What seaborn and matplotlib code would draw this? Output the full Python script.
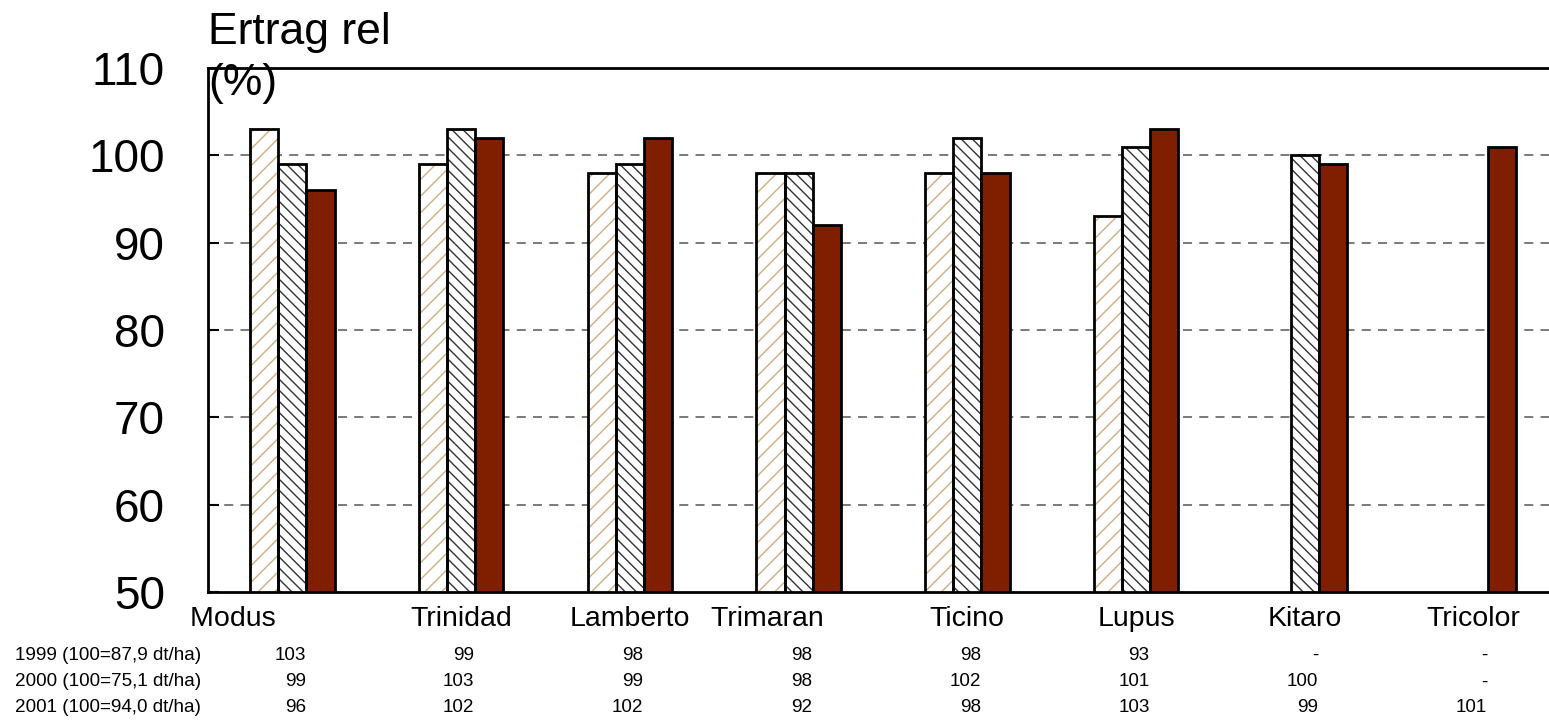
import numpy as np
import pandas as pd
import matplotlib
matplotlib.use('Agg')
import matplotlib.pyplot as plt
import seaborn as sns
from matplotlib.patches import Rectangle
from matplotlib.transforms import blended_transform_factory

# Sorten und relative Ertraege (100 = Mittel der Standards)
sorten = ['Modus', 'Trinidad', 'Lamberto', 'Trimaran', 'Ticino', 'Lupus', 'Kitaro', 'Tricolor']
tick_labels = ['Modus' + ' ' * 15, 'Trinidad', 'Lamberto', 'Trimaran' + ' ' * 8,
               'Ticino', 'Lupus', 'Kitaro', 'Tricolor']
jahre = ['1999', '2000', '2001']
jahr_labels = ['1999 (100=87,9 dt/ha)', '2000 (100=75,1 dt/ha)', '2001 (100=94,0 dt/ha)']
ertrag_1999 = [103, 99, 98, 98, 98, 93, np.nan, np.nan]
ertrag_2000 = [99, 103, 99, 98, 102, 101, 100, np.nan]
ertrag_2001 = [96, 102, 102, 92, 98, 103, 99, 101]

df = pd.DataFrame({
    'sorte': sorten * 3,
    'jahr': [j for j in jahre for _ in sorten],
    'ertrag': ertrag_1999 + ertrag_2000 + ertrag_2001,
})

sns.set_theme(style='white')
plt.rcParams['font.family'] = ['Liberation Sans', 'DejaVu Sans']
plt.rcParams['text.color'] = 'black'
plt.rcParams['xtick.color'] = 'black'
plt.rcParams['ytick.color'] = 'black'
plt.rcParams['hatch.linewidth'] = 1.0

fig = plt.figure(figsize=(15.49, 7.2), dpi=100)
ax = fig.add_axes([208 / 1549, 1 - 592 / 720, 1350 / 1549, 524 / 720])

farben = {'1999': 'white', '2000': 'white', '2001': '#7f1f00'}
sns.barplot(data=df, x='sorte', y='ertrag', hue='jahr', hue_order=jahre, order=sorten,
            palette=farben, saturation=1, width=0.5, edgecolor='black', linewidth=2,
            legend=False, ax=ax)

# Schraffuren: 1999 hellbraun, 2000 schwarz, mit schwarzem Rahmen
schraffur = {0: ('//', '#d4ad7f'), 1: ('\\\\\\', '#333333')}
for i, cont in enumerate(ax.containers):
    if i in schraffur:
        h, c = schraffur[i]
        for p in cont.patches:
            p.set_hatch(h)
            p.set_edgecolor(c)
            p.set_linewidth(0)
            ax.add_patch(Rectangle(p.get_xy(), p.get_width(), p.get_height(),
                                   fill=False, edgecolor='black', linewidth=2, zorder=3))

ax.set_xlim(-0.5, 7.5)
ax.set_ylim(50, 110)
ax.set_yticks(range(50, 111, 10))
ax.set_xticks(range(len(sorten)))
ax.set_xticklabels(tick_labels, fontsize=20.5)
ax.set_xlabel('')
ax.set_ylabel('')
ax.tick_params(axis='y', direction='in', length=8, width=1.5, labelsize=33, pad=31, left=True)
ax.tick_params(axis='x', length=0, pad=10)

for y in range(60, 101, 10):
    ax.axhline(y, color='#707070', linestyle=(0, (5, 4)), linewidth=1.3, zorder=0)

for side in ['left', 'top', 'bottom']:
    ax.spines[side].set_visible(True)
    ax.spines[side].set_color('black')
    ax.spines[side].set_linewidth(2)
ax.spines['right'].set_visible(False)

fig.text(208 / 1549, 1 - 12 / 720, 'Ertrag rel\n(%)', fontsize=32, ha='left', va='top',
         linespacing=1.32)

# Wertetabelle unter dem Diagramm
trans = blended_transform_factory(ax.transData, fig.transFigure)
zeilen_y = [1 - 655 / 720, 1 - 682 / 720, 1 - 708 / 720]
for werte, label, yy in zip([ertrag_1999, ertrag_2000, ertrag_2001], jahr_labels, zeilen_y):
    fig.text(15 / 1549, yy, label, fontsize=13.6, ha='left', va='center')
    for k, v in enumerate(werte):
        txt = '-' if np.isnan(v) else f'{int(v)}'
        ax.text(k + 0.08, yy, txt, transform=trans, fontsize=13.6, ha='right', va='center',
                clip_on=False)

fig.savefig('out.png', dpi=100)
